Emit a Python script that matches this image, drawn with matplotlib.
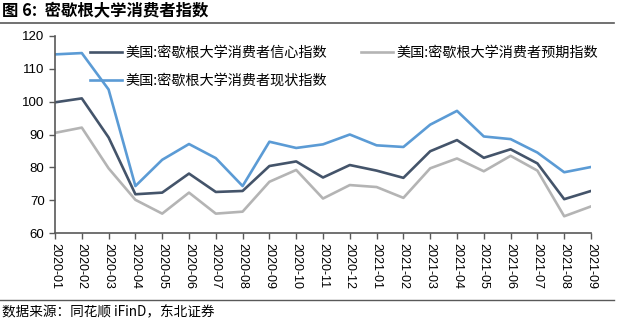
import matplotlib
matplotlib.use("Agg")
import matplotlib.pyplot as plt
from matplotlib.lines import Line2D

plt.rcParams['font.family'] = ['Liberation Sans', 'Noto Sans CJK SC', 'DejaVu Sans']

months = ["2020-01", "2020-02", "2020-03", "2020-04", "2020-05", "2020-06", "2020-07",
          "2020-08", "2020-09", "2020-10", "2020-11", "2020-12", "2021-01", "2021-02",
          "2021-03", "2021-04", "2021-05", "2021-06", "2021-07", "2021-08", "2021-09"]
confidence = [99.8, 101.0, 89.1, 71.8, 72.3, 78.1, 72.5, 72.8, 80.4, 81.8, 76.9, 80.7,
              79.0, 76.8, 84.9, 88.3, 82.9, 85.5, 81.2, 70.3, 72.8]
expectations = [90.5, 92.1, 79.7, 70.1, 65.9, 72.3, 65.9, 66.5, 75.6, 79.2, 70.5, 74.6,
                74.0, 70.7, 79.7, 82.7, 78.8, 83.5, 79.0, 65.1, 68.1]
current = [114.4, 114.8, 103.7, 74.3, 82.3, 87.1, 82.8, 74.3, 87.8, 85.9, 87.0, 90.0,
           86.7, 86.2, 93.0, 97.2, 89.4, 88.6, 84.5, 78.5, 80.1]
labels = ["美国:密歇根大学消费者信心指数", "美国:密歇根大学消费者预期指数", "美国:密歇根大学消费者现状指数"]
title = "图 6:  密歇根大学消费者指数"
source = "数据来源：同花顺 iFinD，东北证券"

fig = plt.figure(figsize=(6.26, 3.31), dpi=100)
ax = fig.add_axes([55/626, 1-233/331, (591-55)/626, (233-36)/331])

x = list(range(len(months)))
c_conf, c_exp, c_cur = "#44546A", "#B4B4B4", "#5B9BD5"
lw = 1.9
l1, = ax.plot(x, confidence, color=c_conf, lw=lw, label=labels[0])
l2, = ax.plot(x, expectations, color=c_exp, lw=lw, label=labels[1])
l3, = ax.plot(x, current, color=c_cur, lw=lw, label=labels[2])

ax.set_xlim(0, len(months)-1)
ax.set_ylim(60, 120)
ax.set_yticks(range(60, 121, 10))
ax.set_xticks(x)
ax.set_xticklabels(months, rotation=-90, fontsize=9)
ax.tick_params(axis='y', labelsize=9.5, length=4, color="#595959", width=1)
ax.tick_params(axis='x', length=4, color="#595959", width=1, pad=3)
for s in ['top', 'right']:
    ax.spines[s].set_visible(False)
for s in ['left', 'bottom']:
    ax.spines[s].set_color("#595959")
    ax.spines[s].set_linewidth(1.2)

leg = ax.legend(handles=[l1, l3, l2], ncol=2, loc='upper left',
                bbox_to_anchor=(77/626, 1-33/331), bbox_transform=fig.transFigure,
                frameon=False, handlelength=2.25, handletextpad=0.25,
                columnspacing=2.4, labelspacing=0.98,
                prop={'family': ['Noto Sans CJK SC'], 'size': 10.2})

fig.text(2/626, 1-11/331, title, fontsize=11.8, fontweight='bold',
         family=['Noto Sans CJK SC'], va='center', ha='left')
fig.add_artist(Line2D([0, 614/626], [1-23/331, 1-23/331], color="#595959", lw=1.2,
                      transform=fig.transFigure))
fig.add_artist(Line2D([0, 614/626], [1-300/331, 1-300/331], color="#595959", lw=1.0,
                      transform=fig.transFigure))
fig.text(2/626, 1-312/331, source, fontsize=9.8, family=['Noto Sans CJK SC'],
         va='center', ha='left')

fig.savefig("out.png", dpi=100)
